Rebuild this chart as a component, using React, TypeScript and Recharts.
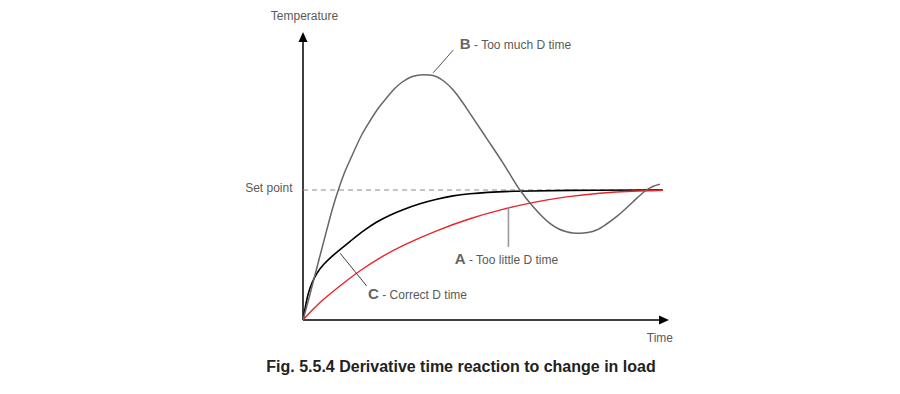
import { LineChart, Line, XAxis, YAxis, ReferenceLine, ReferenceDot } from 'recharts';

// Readings from the figure: time 0..100, temperature 0..110, set point at 50
const SET_POINT = 50;
const X_END = 102;
const Y_END = 110;

// A - too little D time (red)
const timeA = [0, 2.86, 6.58, 11.11, 15.83, 21.39, 27.86, 37.14, 46.39, 55.64, 63.97, 73.25, 82.5, 91.75, 100];
const tempA = [0, 4.42, 9.04, 14.04, 19.04, 24.04, 28.85, 34.42, 39.12, 42.69, 45.31, 47.5, 48.85, 49.62, 49.85];

// B - too much D time (grey)
const timeB = [
  0, 1.67, 3.33, 5.0, 6.67, 8.33, 9.81, 11.39, 13.33, 16.31, 18.61, 20.92, 23.33, 25.56, 27.78, 30.19, 31.94, 33.42,
  35.0, 37.14, 39.44, 41.75, 43.89, 46.39, 51.03, 55.64, 60.28, 63.97, 68.61, 71.11, 73.25, 75.0, 76.94, 79.17, 81.58,
  84.17, 87.14, 89.44, 91.75, 93.61, 95.47, 97.22, 99.17,
];
const tempB = [
  0, 8.46, 17.31, 26.15, 35.0, 43.46, 50.0, 56.15, 62.31, 71.15, 76.54, 81.42, 85.58, 89.12, 91.73, 93.58, 94.15, 94.31,
  94.23, 93.58, 91.54, 88.46, 84.62, 79.5, 69.88, 60.27, 50.0, 43.58, 37.19, 35.0, 33.96, 33.46, 33.35, 33.65, 34.62,
  36.73, 39.73, 42.5, 45.5, 47.88, 50.0, 51.35, 52.19,
];

// C - correct D time (black)
const timeC = [0, 0.83, 1.47, 2.42, 3.81, 5.64, 7.97, 10.28, 13.06, 16.67, 20.56, 24.17, 27.78, 32.5, 37.22, 41.67, 46.39, 51.11, 57.5, 72.22, 100];
const tempC = [0, 6.54, 10.38, 14.23, 18.08, 21.35, 24.42, 27.12, 30.19, 34.23, 37.88, 40.38, 42.5, 44.81, 46.54, 47.81, 48.58, 49.12, 49.54, 49.88, 50];

const toPoints = (xs: number[], ys: number[]) => xs.map((x, i) => ({ x, y: ys[i] }));
const dataA = toPoints(timeA, tempA);
const dataB = toPoints(timeB, tempB);
const dataC = toPoints(timeC, tempC);

const FONT = 'Arial, "Liberation Sans", sans-serif';
const LABEL_GREY = '#5a5a5a';

const curveLabel = (letter: string, rest: string) => (props: any) => (
  <text x={props.cx} y={props.cy} fontFamily={FONT} fill={LABEL_GREY}>
    <tspan fontSize={15} fontWeight="bold" fill="#666">{letter}</tspan>
    <tspan fontSize={12}>{' - ' + rest}</tspan>
  </text>
);

export default function App() {
  return (
    <div style={{ position: 'relative', width: 884, height: 370 }}>
      <LineChart width={884} height={370} margin={{ top: 26, right: 222, bottom: 58, left: 295 }}>
        <XAxis type="number" dataKey="x" domain={[0, X_END]} allowDataOverflow hide />
        <YAxis type="number" dataKey="y" domain={[0, Y_END]} allowDataOverflow hide />

        {/* axes */}
        <ReferenceLine segment={[{ x: 0, y: 0 }, { x: X_END - 1, y: 0 }]} stroke="#000" strokeWidth={1.5} />
        <ReferenceLine segment={[{ x: 0, y: 0 }, { x: 0, y: Y_END - 1 }]} stroke="#000" strokeWidth={1.5} />

        {/* set point */}
        <ReferenceLine
          segment={[{ x: 0, y: SET_POINT }, { x: 100, y: SET_POINT }]}
          stroke="#8a8a8a"
          strokeDasharray="5 4"
        />

        <Line data={dataC} dataKey="y" type="basis" stroke="#000" strokeWidth={1.6} dot={false} isAnimationActive={false} />
        <Line data={dataA} dataKey="y" type="basis" stroke="#e8262b" strokeWidth={1.4} dot={false} isAnimationActive={false} />
        <Line data={dataB} dataKey="y" type="monotone" stroke="#666" strokeWidth={1.5} dot={false} isAnimationActive={false} />

        {/* leader lines */}
        <ReferenceLine segment={[{ x: 36.2, y: 95.1 }, { x: 41.75, y: 103.8 }]} stroke="#555" strokeWidth={1} />
        <ReferenceLine segment={[{ x: 57.1, y: 43.5 }, { x: 57.1, y: 28.1 }]} stroke="#999" strokeWidth={1.6} />
        <ReferenceLine segment={[{ x: 10.3, y: 25.7 }, { x: 17.7, y: 13.1 }]} stroke="#444" strokeWidth={1} />

        {/* curve labels */}
        <ReferenceDot x={43.6} y={104.1} ifOverflow="visible" shape={curveLabel('B', 'Too much D time')} />
        <ReferenceDot x={42.2} y={21.5} ifOverflow="visible" shape={curveLabel('A', 'Too little D time')} />
        <ReferenceDot x={18.1} y={8.1} ifOverflow="visible" shape={curveLabel('C', 'Correct D time')} />

        {/* axis arrows and names */}
        <ReferenceDot
          x={0}
          y={Y_END}
          ifOverflow="visible"
          shape={(p: any) => (
            <g>
              <polygon points={`${p.cx},${p.cy - 2} ${p.cx - 4.5},${p.cy + 8} ${p.cx + 4.5},${p.cy + 8}`} fill="#000" />
              <text x={p.cx + 1.5} y={p.cy - 14.5} textAnchor="middle" fontFamily={FONT} fontSize={12} fill={LABEL_GREY}>
                Temperature
              </text>
            </g>
          )}
        />
        <ReferenceDot
          x={X_END}
          y={0}
          ifOverflow="visible"
          shape={(p: any) => (
            <g>
              <polygon points={`${p.cx - 1},${p.cy} ${p.cx - 11},${p.cy - 4.5} ${p.cx - 11},${p.cy + 4.5}`} fill="#000" />
              <text x={p.cx + 3} y={p.cy + 22} textAnchor="end" fontFamily={FONT} fontSize={12} fill={LABEL_GREY}>
                Time
              </text>
            </g>
          )}
        />
        <ReferenceDot
          x={0}
          y={SET_POINT}
          ifOverflow="visible"
          shape={(p: any) => (
            <text x={p.cx - 10.5} y={p.cy + 2} textAnchor="end" fontFamily={FONT} fontSize={12} fill={LABEL_GREY}>
              Set point
            </text>
          )}
        />
      </LineChart>
      <div
        style={{
          position: 'absolute',
          left: 203,
          top: 351,
          width: 500,
          textAlign: 'center',
          fontFamily: FONT,
          fontSize: 16,
          lineHeight: '16px',
          fontWeight: 'bold',
          color: '#222',
        }}
      >
        Fig. 5.5.4 Derivative time reaction to change in load
      </div>
    </div>
  );
}
